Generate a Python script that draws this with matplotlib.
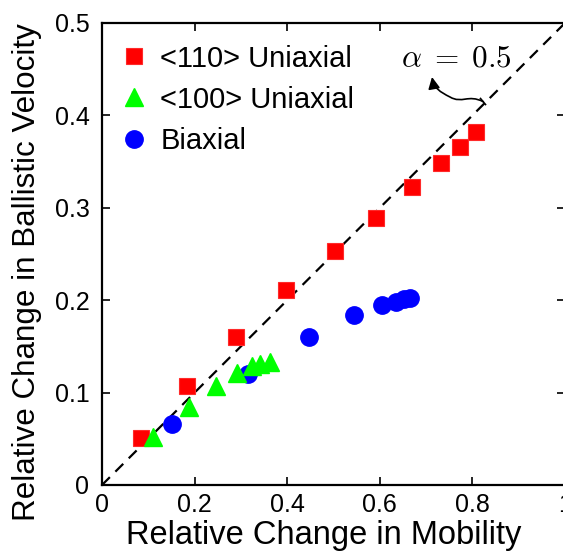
import matplotlib
matplotlib.use("Agg")
import matplotlib.pyplot as plt
from matplotlib.path import Path
from matplotlib.patches import FancyArrowPatch

plt.rcParams['font.family'] = ['Liberation Sans', 'DejaVu Sans']
plt.rcParams['mathtext.fontset'] = 'cm'

# <110> Uniaxial
u110_x = [0.084, 0.184, 0.289, 0.397, 0.503, 0.592, 0.669, 0.732, 0.773, 0.808]
u110_y = [0.051, 0.107, 0.160, 0.211, 0.253, 0.289, 0.323, 0.348, 0.366, 0.382]
# <100> Uniaxial
u100_x = [0.111, 0.188, 0.246, 0.291, 0.323, 0.341, 0.363]
u100_y = [0.052, 0.084, 0.107, 0.121, 0.129, 0.131, 0.133]
# Biaxial
bi_x = [0.152, 0.316, 0.447, 0.545, 0.604, 0.635, 0.652, 0.665]
bi_y = [0.066, 0.120, 0.160, 0.184, 0.195, 0.198, 0.201, 0.202]

ref_x = [0.0, 1.0]
alpha = 0.5
ref_y = [alpha * v for v in ref_x]

xticks = [0, 0.2, 0.4, 0.6, 0.8, 1.0]
xticklabels = ['0', '0.2', '0.4', '0.6', '0.8', '1']
yticks = [0, 0.1, 0.2, 0.3, 0.4, 0.5]
yticklabels = ['0', '0.1', '0.2', '0.3', '0.4', '0.5']

W, H = 563, 552
fig = plt.figure(figsize=(W / 100, H / 100), dpi=100)
L, R, T, B = 102, 565, 23, 485
ax = fig.add_axes([L / W, (H - B) / H, (R - L) / W, (B - T) / H])

ax.plot(ref_x, ref_y, 'k--', lw=1.6, dashes=(5, 3.5), zorder=1)
ax.plot(u110_x, u110_y, 's', color='#ff0000', mec='#ff2a2a', mew=0.8, ms=11, ls='none',
        label='<110> Uniaxial', zorder=3)
ax.plot(u100_x, u100_y, '^', color='#00ff00', mec='#00ff00', ms=13, ls='none',
        label='<100> Uniaxial', zorder=4)
ax.plot(bi_x, bi_y, 'o', color='#0000ff', mec='#0000ff', ms=12.5, ls='none',
        label='Biaxial', zorder=2)

ax.set_xlim(0, 1)
ax.set_ylim(0, 0.5)
ax.set_xticks(xticks)
ax.set_xticklabels(xticklabels)
ax.set_yticks(yticks)
ax.set_yticklabels(yticklabels)
ax.tick_params(direction='in', length=6, width=1.2, top=True, right=True,
               labelsize=18)
ax.tick_params(axis='x', pad=6)
ax.tick_params(axis='y', pad=9)
for s in ax.spines.values():
    s.set_linewidth(1.6)

ax.set_xlabel('Relative Change in Mobility', fontsize=23.5)
ax.set_ylabel('Relative Change in Ballistic Velocity', fontsize=22.6)
ax.xaxis.set_label_coords(0.478, -0.075)
ax.yaxis.set_label_coords(-0.13, 0.461)

leg = ax.legend(loc='upper left', bbox_to_anchor=(0.0, 0.985), frameon=False,
                fontsize=21, handlelength=1.2, handletextpad=0.3,
                labelspacing=0.45, borderpad=0.3, borderaxespad=0.2)

ax.text(0.765, 0.462, r'$\alpha\;=\;0.5$', fontsize=22.5, ha='center', va='center')

def px2d(px, py):
    return ((px - L) / (R - L), (B - py) / (B - T) * 0.5)

pts = [(483.3, 101.7), (468, 94), (462, 104), (450, 97), (440, 92), (434, 88), (432, 77)]
verts = [px2d(*p) for p in pts]
codes = [Path.MOVETO] + [Path.CURVE4] * 6
arrow = FancyArrowPatch(path=Path(verts, codes), arrowstyle='-|>,head_length=0.5,head_width=0.25',
                        mutation_scale=14, color='black', lw=1.2)
ax.add_patch(arrow)
# small bar at the start of the arrow
b0 = px2d(480.5, 98.5)
b1 = px2d(485.5, 104.5)
ax.plot([b0[0], b1[0]], [b0[1], b1[1]], color='black', lw=1.2, clip_on=False)

fig.savefig('out.png', dpi=100)
